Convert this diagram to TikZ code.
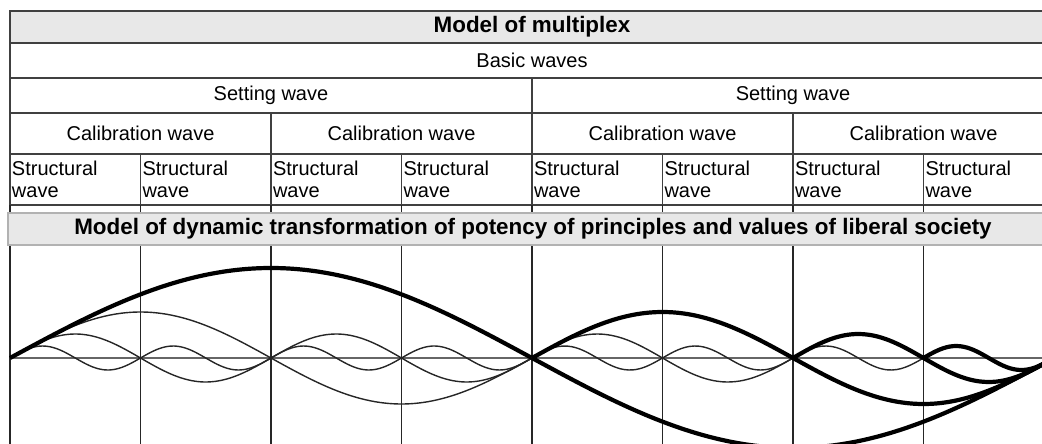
\documentclass[tikz,border=0pt]{standalone}
\usepackage{fontspec}
\setmainfont{Liberation Sans}
\usetikzlibrary{positioning,calc}
\tikzset{cellbox/.style={draw=black!75, line width=1.6pt, inner sep=2pt, outer sep=0pt, font=\fontsize{20}{22}\selectfont}}
\tikzset{greybar/.style={cellbox, fill=black!9, font=\bfseries\fontsize{22.4}{24}\selectfont}}
\tikzset{strcell/.style={cellbox, minimum width=130.5, minimum height=51, text width=126.5, align=left}}
\tikzset{gridline/.style={draw=black!85, line width=1.4pt}}
\tikzset{axisline/.style={draw=black!60, line width=1.3pt}}
\tikzset{thinwave/.style={draw=black!85, line width=1.4pt}}
\tikzset{thickwave/.style={draw=black, line width=4.2pt}}
\begin{document}
\begin{tikzpicture}[x=1pt, y=-1pt]
	\useasboundingbox (0,0) rectangle (1042,444);
	\clip (0,0) rectangle (1042,444);
	% table head
	\node[greybar, anchor=north west, minimum width=1044, minimum height=32] (M) at (10,11) {Model of multiplex};
	\node[cellbox, minimum width=1044, minimum height=35, below=0pt of M] (B) {Basic waves};
	\node[cellbox, minimum width=522, minimum height=35, below right=0pt of B.south west] (S1) {Setting wave};
	\node[cellbox, minimum width=522, minimum height=35, right=0pt of S1] (S2) {Setting wave};
	\node[cellbox, minimum width=261, minimum height=41, below right=0pt of S1.south west] (C1) {Calibration wave};
	\node[cellbox, minimum width=261, minimum height=41, right=0pt of C1] (C2) {Calibration wave};
	\node[cellbox, minimum width=261, minimum height=41, right=0pt of C2] (C3) {Calibration wave};
	\node[cellbox, minimum width=261, minimum height=41, right=0pt of C3] (C4) {Calibration wave};
	\node[strcell, below right=0pt of C1.south west] (W1) {Structural\\wave};
	\foreach \i [count=\j from 1] in {2,...,8}
		\node[strcell, right=0pt of W\j] (W\i) {Structural\\wave};
	%
	\foreach \i in {1,...,8}
		\draw[gridline] (W\i.south west) -- ++(0,250);
	\node[greybar, draw=black!30, anchor=north west, minimum width=1050, minimum height=32] (D) at (8,213)
		{Model of dynamic transformation of potency of principles and values of liberal society};
	% waves
	\coordinate (O) at (10,358);
	\coordinate (E) at (1054,358);
	\draw[axisline] (O) -- (E);
	\foreach \a/\k in {46/2, 24/4, 12/8}
		\draw[thinwave] plot[smooth, domain=10:532, samples=90] (\x, {358-\a*sin((\x-10)/522*\k*180)});
	\draw[thickwave] plot[smooth, domain=10:532, samples=90] (\x, {358-90*sin((\x-10)/522*180)});
	\draw[thinwave] plot[smooth, domain=532:923, samples=90] (\x, {358-12*sin((\x-532)/522*1440)});
	\draw[thinwave] plot[smooth, domain=532:793, samples=60] (\x, {358-24*sin((\x-532)/522*720)});
	\draw[thickwave] plot[smooth, domain=923:1054, samples=40] (\x, {358-12*sin((\x-532)/522*1440)});
	\draw[thickwave] plot[smooth, domain=793:1054, samples=60] (\x, {358-24*sin((\x-532)/522*720)});
	\draw[thickwave] plot[smooth, domain=532:1054, samples=90] (\x, {358-46*sin((\x-532)/522*360)});
	\draw[thickwave] plot[smooth, domain=532:1054, samples=90] (\x, {358+90*sin((\x-532)/522*180)});
\end{tikzpicture}
\end{document}
